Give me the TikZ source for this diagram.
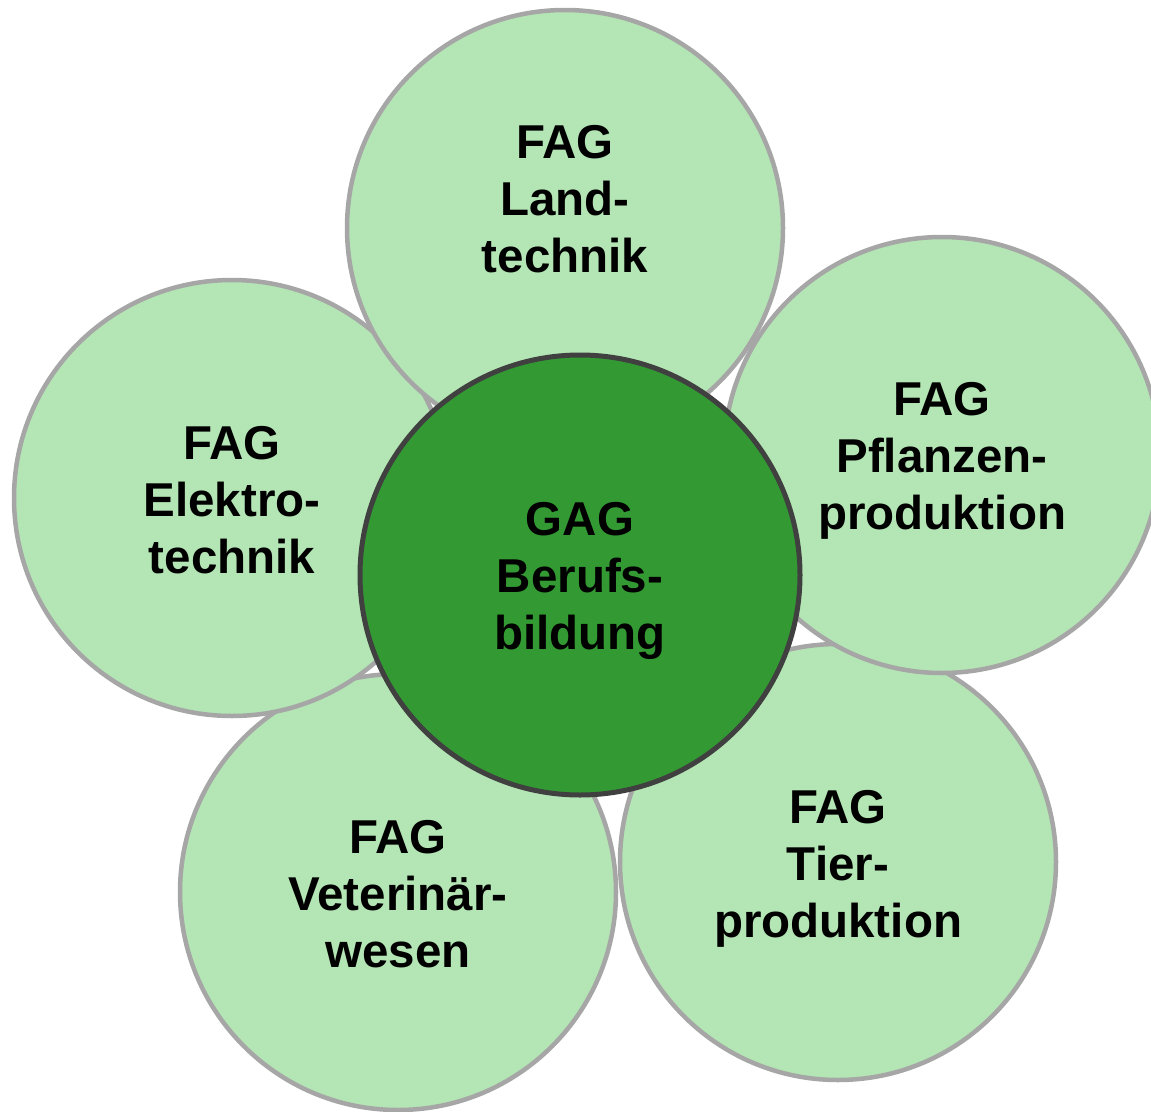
\documentclass[tikz,border=0pt]{standalone}
\usepackage{fontspec}
\setmainfont{Liberation Sans}
\definecolor{petal}{HTML}{B4E5B4}
\definecolor{petalline}{HTML}{A6A6A6}
\definecolor{core}{HTML}{339933}
\definecolor{coreline}{HTML}{404040}
\tikzset{
  petal/.style={circle, fill=petal, draw=petalline, line width=4.5pt, minimum size=436pt, inner sep=0pt},
  corebox/.style={circle, fill=core, draw=coreline, line width=5pt, minimum size=440pt, inner sep=0pt},
  lbl/.style={anchor=north, inner sep=0pt, align=center, text=black,
    font=\fontsize{47.5}{57}\selectfont\bfseries}
}
\begin{document}
\begin{tikzpicture}[x=1pt,y=-1pt]
\useasboundingbox (0,0) rectangle (1151,1111);
\node[petal] (cbl) at (398,892) {};
\node[petal] (cbr) at (838,862) {};
\node[petal] (cl) at (232,498) {};
\node[petal] (ct) at (565,228) {};
\node[petal] (cr) at (942,455) {};
\node[corebox] (cc) at (580,575) {};
\node[lbl] (tt) at (565,125) {FAG\\Land-\\technik};
\node[lbl] (tr) at (942,382) {FAG\\Pflanzen-\\produktion};
\node[lbl] (tl) at (232,426) {FAG\\Elektro-\\technik};
\node[lbl] (tc) at (580,502) {GAG\\Berufs-\\bildung};
\node[lbl] (tbr) at (838,790) {FAG\\Tier-\\produktion};
\node[lbl] (tbl) at (398,820) {FAG\\Veterinär-\\wesen};
\end{tikzpicture}
\end{document}
